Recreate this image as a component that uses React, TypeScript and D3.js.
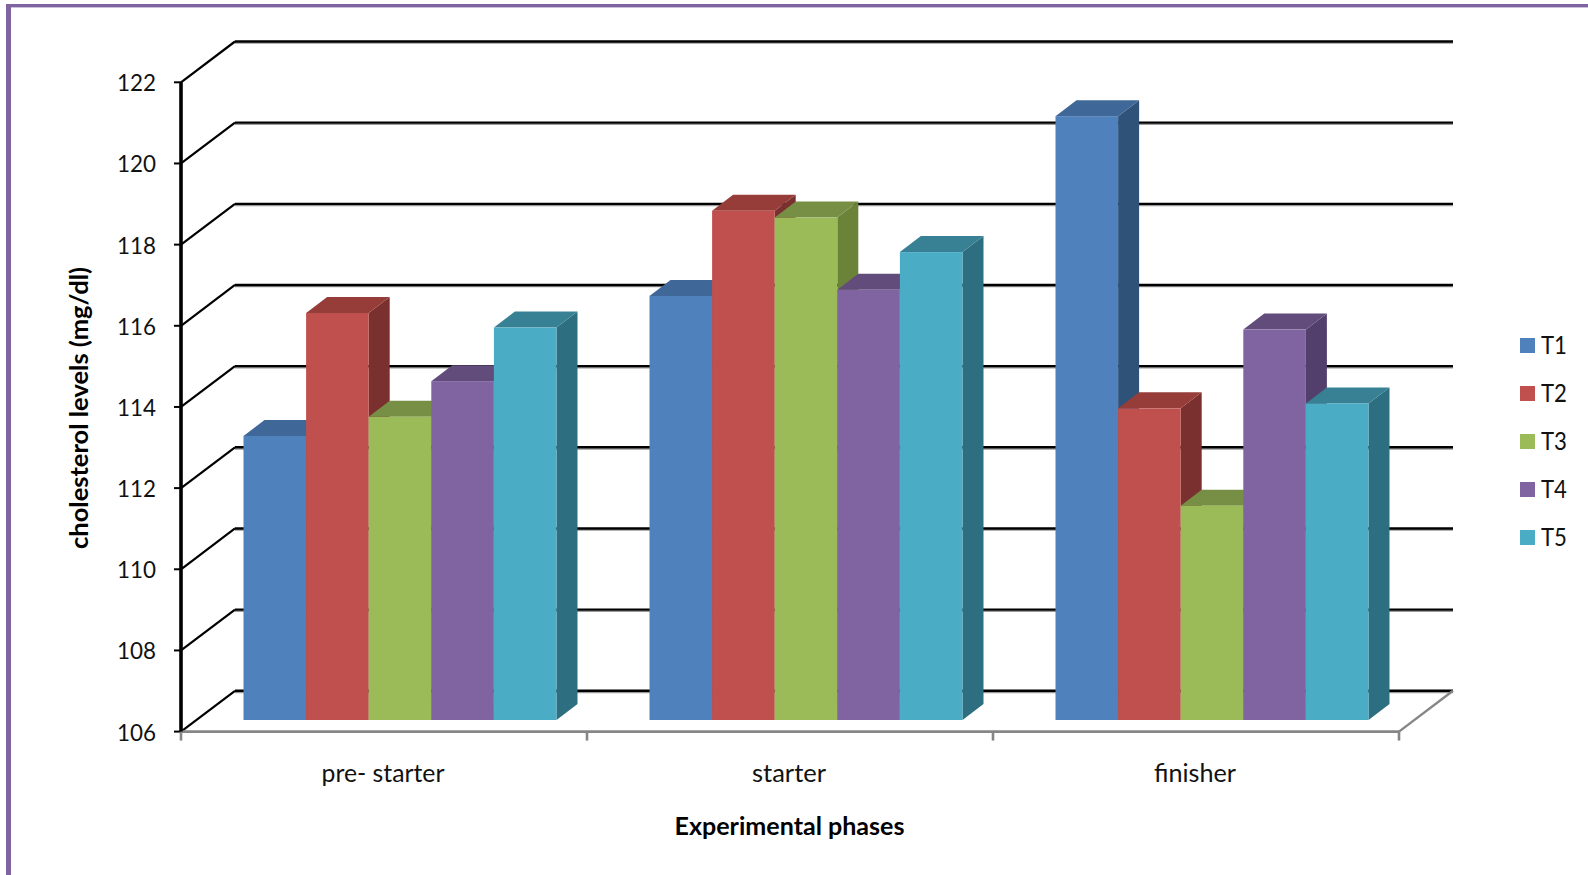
import React from "react";
import * as d3 from "d3";

const phases = ["pre- starter", "starter", "finisher"];
const phaseLabelWidths = [123, 74, 82];
const treatments = ["T1", "T2", "T3", "T4", "T5"];
const t1Values = [113.0, 116.45, 120.88];
const t2Values = [116.03, 118.55, 113.68];
const t3Values = [113.47, 118.38, 111.28];
const t4Values = [114.35, 116.6, 115.62];
const t5Values = [115.67, 117.53, 113.8];
const seriesValues = [t1Values, t2Values, t3Values, t4Values, t5Values];
const yTicks = [106, 108, 110, 112, 114, 116, 118, 120, 122];

const frontColors = ["#4F81BD", "#C0504D", "#9BBB59", "#8064A2", "#4BACC6"];
const topColors = ["#3F6797", "#963D3A", "#778F45", "#624C7C", "#388194"];
const sideColors = ["#2F5279", "#7A302E", "#6B8239", "#533F6B", "#2D6E80"];

const WIDTH = 1588;
const HEIGHT = 875;
const FONT = "Lato, 'Noto Sans', sans-serif";

// Oblique projection offsets for the chart box and for the bars standing inside it.
const WALL_DX = 54;
const WALL_DY = -40.8;
const BAR_INSET_DX = 16;
const BAR_INSET_DY = -11.6;
const BAR_DX = 21;
const BAR_DY = -16;

const y = d3.scaleLinear().domain([106, 122]).range([731.6, 82.3]);
const xPhase = d3.scaleBand<string>().domain(phases).range([181, 1399]);
const barSpan = 313;
const xBar = d3.scaleBand<string>().domain(treatments).range([0, barSpan]);

const polygon = (pts: [number, number][]) => {
  const p = d3.path();
  pts.forEach(([a, b], i) => (i === 0 ? p.moveTo(a, b) : p.lineTo(a, b)));
  p.closePath();
  return p.toString();
};

const Bar = ({ x0, value, si }: { x0: number; value: number; si: number }) => {
  const w = xBar.bandwidth();
  const yBase = y(106) + BAR_INSET_DY;
  const yTop = y(value) + BAR_INSET_DY;
  return (
    <g>
      <path
        d={polygon([
          [x0 + w, yTop],
          [x0 + w + BAR_DX, yTop + BAR_DY],
          [x0 + w + BAR_DX, yBase + BAR_DY],
          [x0 + w, yBase],
        ])}
        fill={sideColors[si]}
      />
      <path
        d={polygon([
          [x0, yTop],
          [x0 + BAR_DX, yTop + BAR_DY],
          [x0 + w + BAR_DX, yTop + BAR_DY],
          [x0 + w, yTop],
        ])}
        fill={topColors[si]}
      />
      <rect x={x0} y={yTop} width={w} height={yBase - yTop} fill={frontColors[si]} />
    </g>
  );
};

export default function App() {
  const xLeft = xPhase.range()[0];
  const xRight = xPhase.range()[1];
  const phaseEdges = [...phases.map((p) => xPhase(p) as number), xRight];

  return (
    <svg
      width={WIDTH}
      height={HEIGHT}
      viewBox={`0 0 ${WIDTH} ${HEIGHT}`}
      style={{ position: "fixed", left: 0, top: 0, background: "#fff" }}
      fontFamily={FONT}
    >
      {/* outer frame */}
      <rect x={6} y={4} width={WIDTH - 6} height={3.4} fill="#8064A2" />
      <rect x={6} y={4} width={5} height={HEIGHT - 4} fill="#8064A2" />

      {/* back wall gridlines with their soft shadow, and the side wall diagonals */}
      {yTicks.map((t) => (
        <g key={t}>
          <line
            x1={xLeft + WALL_DX}
            x2={xRight + WALL_DX}
            y1={y(t) + WALL_DY + 1.6}
            y2={y(t) + WALL_DY + 1.6}
            stroke="#9a9a9a"
            strokeWidth={1.5}
          />
          <line
            x1={xLeft + WALL_DX}
            x2={xRight + WALL_DX}
            y1={y(t) + WALL_DY}
            y2={y(t) + WALL_DY}
            stroke="#000"
            strokeWidth={2.4}
          />
          <line
            x1={xLeft}
            x2={xLeft + WALL_DX}
            y1={y(t)}
            y2={y(t) + WALL_DY}
            stroke="#000"
            strokeWidth={2.2}
          />
          <line x1={xLeft - 7} x2={xLeft} y1={y(t)} y2={y(t)} stroke="#000" strokeWidth={2} />
          <text
            x={xLeft - 25}
            y={y(t) - 0.5}
            textAnchor="end"
            dominantBaseline="central"
            fontSize={24}
            fill="#111"
            textLength={39}
            lengthAdjust="spacingAndGlyphs"
          >
            {t}
          </text>
        </g>
      ))}

      {/* floor edges and category ticks */}
      <line
        x1={xRight}
        y1={y(106)}
        x2={xRight + WALL_DX}
        y2={y(106) + WALL_DY}
        stroke="#868686"
        strokeWidth={2.4}
      />
      <line x1={xLeft} x2={xRight} y1={y(106)} y2={y(106)} stroke="#868686" strokeWidth={2.6} />
      {phaseEdges.map((edge) => (
        <line
          key={edge}
          x1={edge}
          x2={edge}
          y1={y(106)}
          y2={y(106) + 9}
          stroke="#868686"
          strokeWidth={2.6}
        />
      ))}

      {/* value axis */}
      <line x1={xLeft} x2={xLeft} y1={y(122)} y2={y(106)} stroke="#000" strokeWidth={3.6} />

      {/* bars, painted left to right so each front hides its neighbour's side */}
      {phases.map((phase, pi) => {
        const groupStart =
          (xPhase(phase) as number) + BAR_INSET_DX + (xPhase.bandwidth() - barSpan) / 2;
        return (
          <g key={phase}>
            {treatments.map((name, si) => (
              <Bar
                key={name}
                x0={groupStart + (xBar(name) as number)}
                value={seriesValues[si][pi]}
                si={si}
              />
            ))}
          </g>
        );
      })}

      {/* category labels */}
      {phases.map((phase, pi) => (
        <text
          key={phase}
          x={(xPhase(phase) as number) + xPhase.bandwidth() / 2 - 1}
          y={782}
          textAnchor="middle"
          fontSize={24.5}
          fill="#111"
          textLength={phaseLabelWidths[pi]}
          lengthAdjust="spacingAndGlyphs"
        >
          {phase}
        </text>
      ))}

      {/* axis titles */}
      <text
        x={789.5}
        y={835}
        textAnchor="middle"
        fontSize={24}
        fontWeight={700}
        fill="#000"
        textLength={230}
        lengthAdjust="spacingAndGlyphs"
      >
        Experimental phases
      </text>
      <text
        transform="translate(88,408) rotate(-90)"
        textAnchor="middle"
        fontSize={24}
        fontWeight={700}
        fill="#000"
        textLength={282}
        lengthAdjust="spacingAndGlyphs"
      >
        cholesterol levels (mg/dl)
      </text>

      {/* legend */}
      {treatments.map((name, si) => (
        <g key={name} transform={`translate(1520,${338 + si * 48})`}>
          <rect width={15} height={15} fill={frontColors[si]} />
          <text
            x={21}
            y={6}
            dominantBaseline="central"
            fontSize={24.5}
            fill="#111"
            textLength={26}
            lengthAdjust="spacingAndGlyphs"
          >
            {name}
          </text>
        </g>
      ))}
    </svg>
  );
}
